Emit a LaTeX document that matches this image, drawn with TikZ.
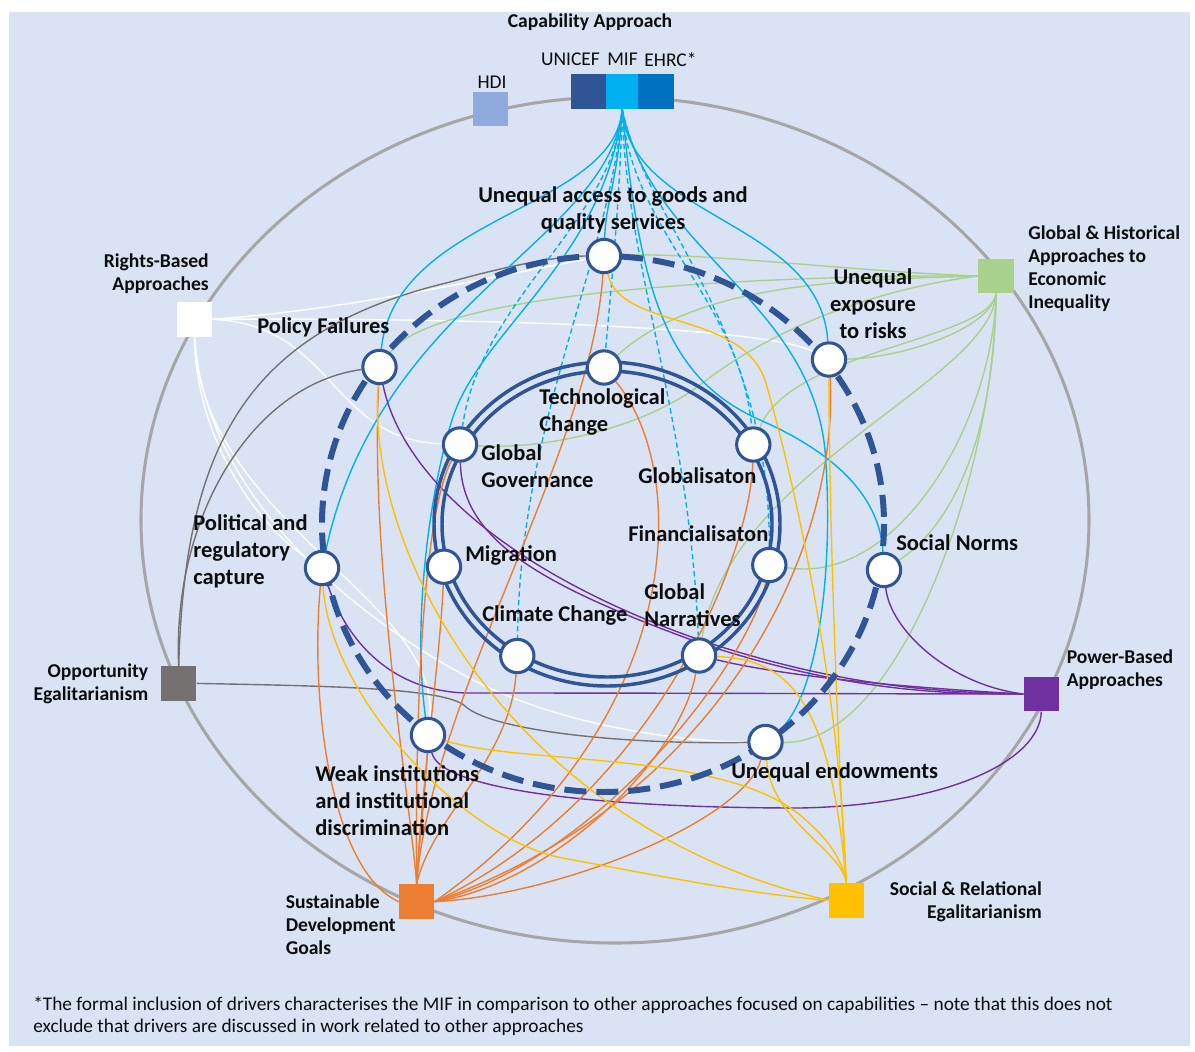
\documentclass[tikz,border=0pt]{standalone}
\usepackage{fontspec}
\setmainfont{Carlito}
\pgfdeclarelayer{bg}
\pgfsetlayers{bg,main}
\definecolor{bgc}{HTML}{DAE3F3}
\definecolor{dblue}{HTML}{2F5597}
\definecolor{cmif}{HTML}{00B0F0}
\definecolor{cehrc}{HTML}{0070C0}
\definecolor{chdi}{HTML}{8FAADC}
\definecolor{cgreen}{HTML}{A9D18E}
\definecolor{cgray}{HTML}{767171}
\definecolor{cpurp}{HTML}{7030A0}
\definecolor{corange}{HTML}{ED7D31}
\definecolor{cyell}{HTML}{FFC000}
\definecolor{cring}{HTML}{A6A6A6}
\definecolor{txt}{HTML}{0D0D0D}
\begin{document}
\begin{tikzpicture}[x=0.75pt,y=-0.75pt,
  dn/.style={circle, draw=dblue, fill=white, line width=2.3pt, inner sep=0pt, minimum size=25pt},
  sq/.style={rectangle, inner sep=0pt, minimum width=26.5pt, minimum height=26pt},
  big/.style={font=\fontsize{16.9}{20.3}\selectfont\bfseries, text=txt, inner sep=0pt},
  small/.style={font=\fontsize{14.7}{17.3}\selectfont\bfseries, text=txt, inner sep=0pt},
  smallr/.style={font=\fontsize{14.6}{17.3}\selectfont, text=txt, inner sep=0pt},
  foot/.style={font=\fontsize{14.5}{16.5}\selectfont, text=txt, inner sep=0pt},
  con/.style={line width=1.05pt},
  mifl/.style={con, draw=cmif},
  mifd/.style={con, draw=cmif, dash pattern=on 4pt off 2.5pt},
  grl/.style={con, draw=cgreen},
  wl/.style={con, draw=white},
  gyl/.style={con, draw=cgray},
  pl/.style={con, draw=cpurp},
  ol/.style={con, draw=corange},
  yl/.style={con, draw=cyell}]
\useasboundingbox (0,0) rectangle (1195,1052);

% ---------- squares ----------
\node[sq, fill=dblue, minimum width=26.3pt] (UNI) at (588.3,91.6) {};
\node[sq, fill=cmif, minimum width=24.5pt] (MIF) at (622.2,91.6) {};
\node[sq, fill=cehrc, minimum width=27pt] (EHRC) at (656.3,91.6) {};
\node[sq, fill=chdi] (HDI) at (490.3,109) {};
\node[sq, fill=white] (R) at (194.5,319.2) {};
\node[sq, fill=cgreen] (G) at (996,276) {};
\node[sq, fill=cgray] (O) at (178.7,683.4) {};
\node[sq, fill=cpurp] (P) at (1041.3,694) {};
\node[sq, fill=corange] (S) at (416.7,901.7) {};
\node[sq, fill=cyell] (Y) at (846.2,900.2) {};

% ---------- driver / outcome nodes ----------
\node[dn] (UA) at (604,256) {};
\node[dn] (PF) at (379.5,367) {};
\node[dn] (UE) at (829,359.5) {};
\node[dn] (PR) at (322,568) {};
\node[dn] (SN) at (884,570) {};
\node[dn] (WI) at (428,735) {};
\node[dn] (EN) at (765.5,742) {};
\node[dn] (TC) at (604,367.5) {};
\node[dn] (GG) at (460,444.5) {};
\node[dn] (GL) at (753.3,444.5) {};
\node[dn] (MI) at (444,566.7) {};
\node[dn] (FI) at (769.3,565) {};
\node[dn] (CC) at (517.3,656) {};
\node[dn] (GN) at (699,655.5) {};

% ---------- texts ----------
\node[small] (tCA) at (590,22) {Capability Approach};
\node[smallr] (tUNI) at (570.5,59.5) {UNICEF};
\node[smallr] (tMIF) at (622.5,59.5) {MIF};
\node[smallr] (tEHRC) at (670.5,59.5) {EHRC*};
\node[smallr] (tHDI) at (492,82.5) {HDI};
\node[small, align=right, anchor=east] (tR) at (209,274) {Rights-Based\\Approaches};
\node[small, align=left, anchor=west] (tG) at (1028,268.5) {Global \& Historical\\Approaches to\\Economic\\Inequality};
\node[small, align=right, anchor=east] (tO) at (148.5,684) {Opportunity\\Egalitarianism};
\node[small, align=left, anchor=west] (tP) at (1066.5,670) {Power-Based\\Approaches};
\node[small, align=left, anchor=west] (tS) at (285.5,925) {Sustainable\\Development\\Goals};
\node[small, align=right, anchor=east] (tY) at (1042,901.5) {Social \& Relational\\Egalitarianism};

\node[big, align=center] (lUA) at (613,209.5) {Unequal access to goods and\\quality services};
\node[big, anchor=west] (lPF) at (257,327) {Policy Failures};
\node[big, align=center] (lUE) at (873,304) {Unequal\\exposure\\to risks};
\node[big, align=left, anchor=west] (lPR) at (193,551.5) {Political and\\regulatory\\capture};
\node[big, anchor=west] (lSN) at (896,543) {Social Norms};
\node[big, align=left, anchor=west] (lWI) at (315,800.5) {Weak institutions\\and institutional\\discrimination};
\node[big, anchor=west] (lEN) at (731,772.5) {Unequal endowments};
\node[big, align=left, anchor=west] (lTC) at (539,412) {Technological\\Change};
\node[big, align=left, anchor=west] (lGG) at (481,466) {Global\\Governance};
\node[big, anchor=west] (lGL) at (638,475.5) {Globalisaton};
\node[big, anchor=west] (lFI) at (628,533.5) {Financialisaton};
\node[big, anchor=west] (lMI) at (465,555.5) {Migration};
\node[big, align=left, anchor=west] (lGN) at (644,605.5) {Global\\Narratives};
\node[big, anchor=west] (lCC) at (482,615.5) {Climate Change};

\node[foot, align=left, anchor=west] (tF) at (33,1016) {*The formal inclusion of drivers characterises the MIF in comparison to other approaches focused on capabilities -- note that this does not\\exclude that drivers are discussed in work related to other approaches};

\begin{pgfonlayer}{bg}
\fill[bgc] (9,12) rectangle (1190,1046);
\draw[cring, line width=2.3pt] (615,520) ellipse [x radius=474, y radius=423];

% ---- white: Rights-Based ----
\draw[wl] (R.east) .. controls (350,310) and (500,275) .. (UA);
\draw[wl] (R.east) .. controls (450,318) and (760,325) .. (UE);
\draw[wl] (R.east) .. controls (335,325) and (330,440) .. (GG);
\draw[wl] (R.south) .. controls (195,430) and (250,520) .. (PR);
\draw[wl] (R.south) .. controls (200,520) and (441,600) .. (WI);
\draw[wl] (R.south) .. controls (205,500) and (360,620) .. (473,680) .. controls (560,725) and (680,742) .. (EN);

% ---- gray: Opportunity ----
\draw[gyl] (O.north) .. controls (172,520) and (250,385) .. (PF);
\draw[gyl] (O.north) .. controls (185,440) and (250,330) .. (450,282) .. controls (510,265) and (560,256) .. (UA);
\draw[gyl] (O.east) .. controls (330,686) and (445,688) .. (465,706) .. controls (490,730) and (620,745) .. (EN);

% ---- green: Global & Historical ----
\draw[grl] (G.west) .. controls (860,272) and (700,252) .. (UA);
\draw[grl] (G.west) .. controls (820,275) and (440,285) .. (PF);
\draw[grl] (G.west) .. controls (860,280) and (700,280) .. (TC);
\draw[grl] (G.west) .. controls (870,290) and (770,330) .. (700,385) .. controls (640,430) and (540,450) .. (GG);
\draw[grl] (G.south) .. controls (990,330) and (900,358) .. (UE);
\draw[grl] (G.south) .. controls (990,340) and (790,350) .. (GL);
\draw[grl] (G.south) .. controls (992,380) and (730,470) .. (GN);
\draw[grl] (G.south) .. controls (993,420) and (900,585) .. (FI);
\draw[grl] (G.south) .. controls (995,420) and (960,520) .. (SN);
\draw[grl] (G.south) .. controls (995,470) and (900,745) .. (EN);

% ---- light blue solid: MIF ----
\draw[mifl] (MIF.south) .. controls (618,180) and (606,200) .. (UA);
\draw[mifl] (MIF.south) .. controls (615,210) and (395,215) .. (PF);
\draw[mifl] (MIF.south) .. controls (610,240) and (380,300) .. (PR);
\draw[mifl] (MIF.south) .. controls (605,260) and (480,330) .. (452,420) .. controls (430,490) and (412,620) .. (WI);
\draw[mifl] (MIF.south) .. controls (630,220) and (820,220) .. (UE);
\draw[mifl] (MIF.south) .. controls (640,300) and (670,380) .. (760,420) .. controls (840,455) and (880,500) .. (SN);
\draw[mifl] (MIF.south) .. controls (650,250) and (810,300) .. (825,450) .. controls (835,580) and (815,700) .. (EN);

% ---- light blue dashed: MIF to drivers ----
\draw[mifd] (MIF.south) .. controls (620,200) and (610,300) .. (TC);
\draw[mifd] (MIF.south) .. controls (615,220) and (480,300) .. (GG);
\draw[mifd] (MIF.south) .. controls (610,260) and (520,420) .. (CC);
\draw[mifd] (MIF.south) .. controls (630,230) and (740,300) .. (GL);
\draw[mifd] (MIF.south) .. controls (625,260) and (690,420) .. (GN);
\draw[mifd] (MIF.south) .. controls (645,220) and (770,330) .. (FI);

% ---- purple: Power-Based ----
\draw[pl] (PF) .. controls (400,470) and (500,570) .. (700,640) .. controls (850,690) and (950,692) .. (P.west);
\draw[pl] (GG) .. controls (462,540) and (540,585) .. (700,643) .. controls (850,693) and (950,694) .. (P.west);
\draw[pl] (PR) .. controls (350,650) and (400,693) .. (470,693) .. controls (700,693) and (900,694) .. (P.west);
\draw[pl] (GN) .. controls (800,680) and (950,690) .. (P.west);
\draw[pl] (SN) .. controls (890,630) and (950,685) .. (P.west);
\draw[pl] (WI) .. controls (440,790) and (600,808) .. (800,808) .. controls (950,805) and (1040,760) .. (P.south);

% ---- orange: SDG ----
\draw[ol] (UA) .. controls (592,450) and (430,700) .. (S.north);
\draw[ol] (PF) .. controls (370,560) and (410,800) .. (S.north);
\draw[ol] (GG) .. controls (420,520) and (415,750) .. (S.north);
\draw[ol] (MI) .. controls (440,660) and (420,800) .. (S.north);
\draw[ol] (CC) .. controls (510,760) and (430,820) .. (S.north);
\draw[ol] (WI) .. controls (425,800) and (418,850) .. (S.north);
\draw[ol] (PR) .. controls (310,700) and (330,870) .. (S.west);
\draw[ol] (TC) .. controls (690,470) and (690,720) .. (S.east);
\draw[ol] (GL) .. controls (750,560) and (650,800) .. (S.east);
\draw[ol] (FI) .. controls (750,660) and (600,860) .. (S.east);
\draw[ol] (GN) .. controls (680,760) and (550,885) .. (S.east);
\draw[ol] (EN) .. controls (745,820) and (560,895) .. (S.east);
\draw[ol] (UE) .. controls (840,550) and (720,800) .. (S.east);

% ---- yellow: Social & Relational ----
\draw[yl] (UA) .. controls (620,330) and (740,310) .. (765,380) .. controls (800,500) and (840,700) .. (Y.north);
\draw[yl] (PF) .. controls (365,560) and (520,830) .. (Y.west);
\draw[yl] (UE) .. controls (829,520) and (838,760) .. (Y.north);
\draw[yl] (PR) .. controls (330,700) and (470,845) .. (568,859) .. controls (680,880) and (760,895) .. (Y.west);
\draw[yl] (WI) .. controls (520,765) and (720,750) .. (800,815) .. controls (830,840) and (842,860) .. (Y.north);
\draw[yl] (EN) .. controls (770,820) and (842,850) .. (Y.north);
\draw[yl] (GN) .. controls (790,660) and (830,700) .. (Y.north);

% ---- rings ----
\draw[dblue, line width=4.5pt, dash pattern=on 16.5pt off 7.5pt] (603,524) ellipse [x radius=281, y radius=268];
\draw[dblue, line width=2.6pt] (607,524) ellipse [x radius=173, y radius=162];
\draw[dblue, line width=2.6pt] (607,524) ellipse [x radius=165, y radius=153];
\end{pgfonlayer}
\end{tikzpicture}
\end{document}
